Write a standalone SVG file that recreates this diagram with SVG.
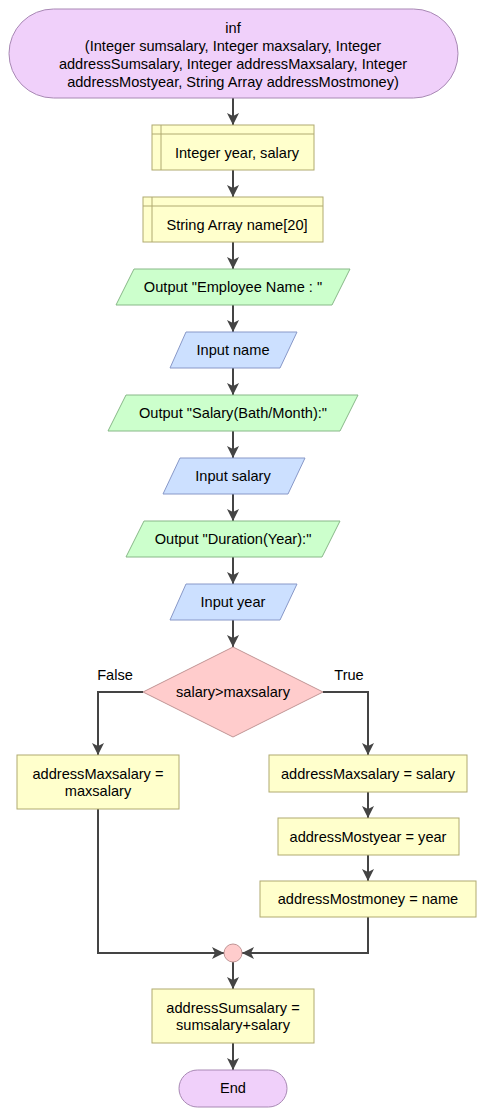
<svg xmlns="http://www.w3.org/2000/svg" width="485" height="1115" viewBox="0 0 485 1115">
<style>
text{font-family:"Liberation Sans",Arial,sans-serif;font-size:14.6px;fill:#000;text-anchor:middle}
.term{fill:#f0d0fa;stroke:#a888b4;stroke-width:1}
.decl{fill:#ffffcc;stroke:#b0aa70;stroke-width:1}
.proc{fill:#ffffcc;stroke:#b0aa70;stroke-width:1}
.out{fill:#ccffcc;stroke:#88b888;stroke-width:1}
.in{fill:#cce0ff;stroke:#8898c8;stroke-width:1}
.dec{fill:#ffcccc;stroke:#c09494;stroke-width:1}
.join{fill:#ffcccc;stroke:#c09494;stroke-width:1}
.c{fill:none;stroke:#444;stroke-width:2}
</style>
<defs>
<marker id="ah" viewBox="0 0 12 12" refX="12" refY="6" markerWidth="12" markerHeight="12" markerUnits="userSpaceOnUse" orient="auto"><path d="M0,0 L12,6 L0,12 L3,6 Z" fill="#444"/></marker>
</defs>
<g id="connectors">
<path class="c" d="M233,98 V125" marker-end="url(#ah)"/>
<path class="c" d="M233,170 V197" marker-end="url(#ah)"/>
<path class="c" d="M233,242 V269" marker-end="url(#ah)"/>
<path class="c" d="M233,305 V332" marker-end="url(#ah)"/>
<path class="c" d="M233,368 V395" marker-end="url(#ah)"/>
<path class="c" d="M233,431 V458" marker-end="url(#ah)"/>
<path class="c" d="M233,494 V521" marker-end="url(#ah)"/>
<path class="c" d="M233,557 V584" marker-end="url(#ah)"/>
<path class="c" d="M233,620 V647" marker-end="url(#ah)"/>
<path class="c" d="M143,692 H98 V755" marker-end="url(#ah)"/>
<path class="c" d="M323,692 H368 V755" marker-end="url(#ah)"/>
<path class="c" d="M368,792 V818" marker-end="url(#ah)"/>
<path class="c" d="M368,855 V881" marker-end="url(#ah)"/>
<path class="c" d="M98,809 V953 H224" marker-end="url(#ah)"/>
<path class="c" d="M368,917 V953 H242" marker-end="url(#ah)"/>
<path class="c" d="M233,962 V989" marker-end="url(#ah)"/>
<path class="c" d="M233,1043 V1070" marker-end="url(#ah)"/>
<text x="115" y="680">False</text>
<text x="349" y="680">True</text>
</g>
<g id="start">
<rect class="term" x="9" y="9" width="449" height="89" rx="44.5"/>
<text x="233" y="33">inf</text>
<text x="233" y="51">(Integer sumsalary, Integer maxsalary, Integer</text>
<text x="233" y="69">addressSumsalary, Integer addressMaxsalary, Integer</text>
<text x="233" y="87">addressMostyear, String Array addressMostmoney)</text>
</g>
<g id="decl1">
<rect class="decl" x="152" y="125" width="162" height="45"/>
<path class="decl" d="M161,125 V170 M152,134 H314"/>
<text x="237" y="158">Integer year, salary</text>
</g>
<g id="decl2">
<rect class="decl" x="143" y="197" width="180" height="45"/>
<path class="decl" d="M152,197 V242 M143,206 H323"/>
<text x="237" y="230">String Array name[20]</text>
</g>
<g id="out1">
<polygon class="out" points="134,269 350,269 332,305 116,305"/>
<text x="233" y="292">Output "Employee Name : "</text>
</g>
<g id="in1">
<polygon class="in" points="186,332 297,332 280,368 170,368"/>
<text x="233" y="355">Input name</text>
</g>
<g id="out2">
<polygon class="out" points="126,395 358,395 340,431 108,431"/>
<text x="233" y="418">Output "Salary(Bath/Month):"</text>
</g>
<g id="in2">
<polygon class="in" points="180,458 305,458 288,494 163,494"/>
<text x="233" y="481">Input salary</text>
</g>
<g id="out3">
<polygon class="out" points="144,521 340,521 322,557 126,557"/>
<text x="233" y="544">Output "Duration(Year):"</text>
</g>
<g id="in3">
<polygon class="in" points="186,584 297,584 280,620 170,620"/>
<text x="233" y="607">Input year</text>
</g>
<g id="decision">
<polygon class="dec" points="233,647 323,692 233,737 143,692"/>
<text x="233" y="697">salary&gt;maxsalary</text>
</g>
<g id="falseBox">
<rect class="proc" x="17" y="755" width="162" height="54"/>
<text x="98" y="779">addressMaxsalary =</text>
<text x="98" y="796">maxsalary</text>
</g>
<g id="trueBox1">
<rect class="proc" x="269" y="755" width="198" height="37"/>
<text x="368" y="779">addressMaxsalary = salary</text>
</g>
<g id="trueBox2">
<rect class="proc" x="278" y="818" width="181" height="37"/>
<text x="368" y="842">addressMostyear = year</text>
</g>
<g id="trueBox3">
<rect class="proc" x="260" y="881" width="216" height="36"/>
<text x="368" y="904">addressMostmoney = name</text>
</g>
<g id="merge">
<circle class="join" cx="233" cy="953" r="9"/>
</g>
<g id="sumBox">
<rect class="proc" x="152" y="989" width="162" height="54"/>
<text x="233" y="1013">addressSumsalary =</text>
<text x="233" y="1030">sumsalary+salary</text>
</g>
<g id="end">
<rect class="term" x="179" y="1070" width="108" height="37" rx="18.5"/>
<text x="233" y="1093">End</text>
</g>
</svg>
